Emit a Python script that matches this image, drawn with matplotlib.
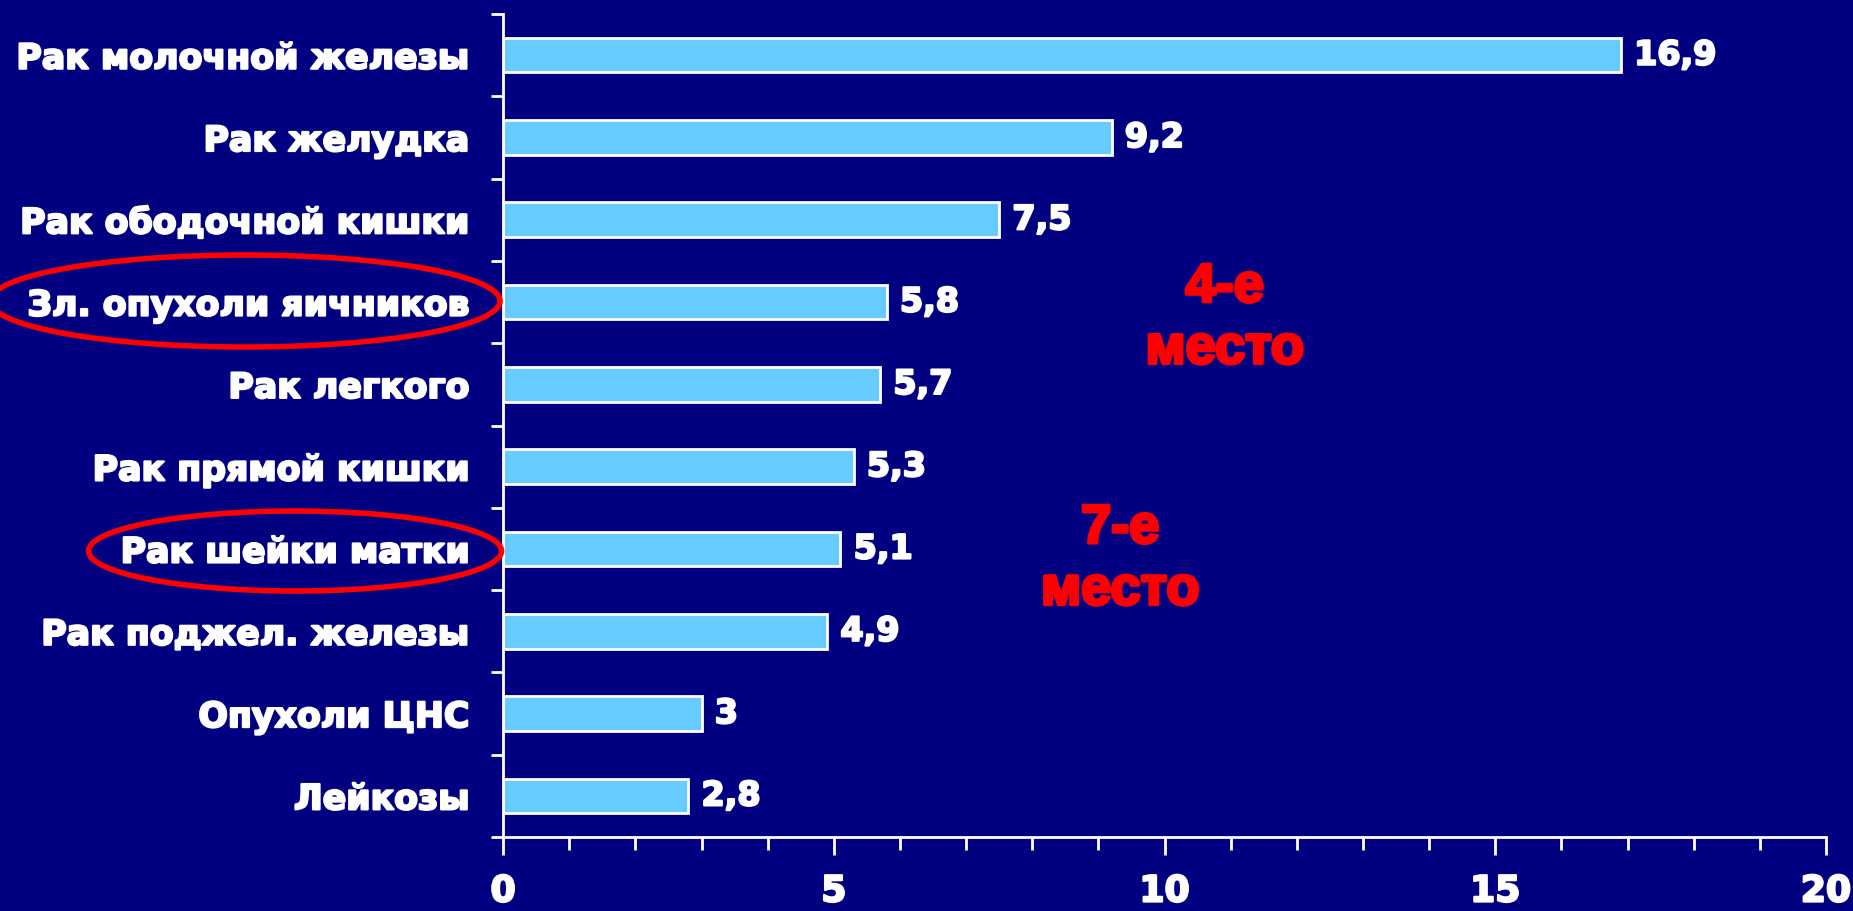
import numpy as np
import matplotlib.pyplot as plt
import matplotlib.patheffects as pe
from matplotlib.patches import Ellipse
from matplotlib.ticker import MultipleLocator, FixedLocator

categories = ['Рак молочной железы', 'Рак желудка', 'Рак ободочной кишки',
              'Зл. опухоли яичников', 'Рак легкого', 'Рак прямой кишки',
              'Рак шейки матки', 'Рак поджел. железы', 'Опухоли ЦНС', 'Лейкозы']
values = [16.9, 9.2, 7.5, 5.8, 5.7, 5.3, 5.1, 4.9, 3, 2.8]
value_labels = ['16,9', '9,2', '7,5', '5,8', '5,7', '5,3', '5,1', '4,9', '3', '2,8']
x_ticks = [0, 5, 10, 15, 20]

BG = '#000080'
BAR = '#66CCFF'
RED = '#FF0000'

white_fx = [pe.withStroke(linewidth=1.6, foreground='white')]
red_fx = [pe.withStroke(linewidth=2.5, foreground=RED)]

fig = plt.figure(figsize=(18.53, 9.11), dpi=100, facecolor=BG)
ax = fig.add_axes([0.2715, 0.0812, 0.7139, 0.9034], facecolor=BG)

y = np.arange(len(categories))
ax.barh(y, values, height=0.42, color=BAR, edgecolor='white', linewidth=2)

for yi, v, s in zip(y, values, value_labels):
    ax.text(v + 0.2, yi, s, color='white', fontsize=24, fontweight='bold',
            va='center', ha='left', path_effects=white_fx)

ax.set_xlim(0, 20)
ax.set_ylim(len(categories) - 0.5, -0.5)

ax.set_yticks(y)
ax.set_yticklabels(categories)
ax.yaxis.set_minor_locator(FixedLocator(np.arange(-0.5, len(categories), 1)))
ax.tick_params(axis='y', which='major', length=0, pad=24, labelsize=25,
               labelcolor='white')
ax.tick_params(axis='y', which='minor', length=9, width=2, color='white')
for lab in ax.get_yticklabels():
    lab.set_fontweight('bold')
    lab.set_path_effects(white_fx)

ax.set_xticks(x_ticks)
ax.xaxis.set_minor_locator(MultipleLocator(1))
ax.tick_params(axis='x', which='major', length=13, width=2, color='white',
               pad=14, labelsize=26, labelcolor='white')
ax.tick_params(axis='x', which='minor', length=9, width=2, color='white')
for lab in ax.get_xticklabels():
    lab.set_fontweight('bold')
    lab.set_path_effects(white_fx)

for side in ['top', 'right']:
    ax.spines[side].set_visible(False)
for side in ['left', 'bottom']:
    ax.spines[side].set_color('white')
    ax.spines[side].set_linewidth(2)

# red annotations
ax.text(10.91, 3.2, '4-е\nместо', color=RED, fontsize=39,
        fontweight='bold', family='Liberation Sans', ha='center', va='center',
        linespacing=1.3, path_effects=red_fx)
ax.text(9.33, 6.13, '7-е\nместо', color=RED, fontsize=39,
        fontweight='bold', family='Liberation Sans', ha='center', va='center',
        linespacing=1.3, path_effects=red_fx)

W, H = 1853, 911
e1 = Ellipse((245 / W, 1 - 301 / H), 510 / W, 92 / H, transform=fig.transFigure,
             fill=False, edgecolor=RED, linewidth=4, clip_on=False)
e2 = Ellipse((295 / W, 1 - 551 / H), 413 / W, 80 / H, transform=fig.transFigure,
             fill=False, edgecolor=RED, linewidth=4, clip_on=False)
fig.add_artist(e1)
fig.add_artist(e2)

fig.savefig('out.png', dpi=100, facecolor=BG)
